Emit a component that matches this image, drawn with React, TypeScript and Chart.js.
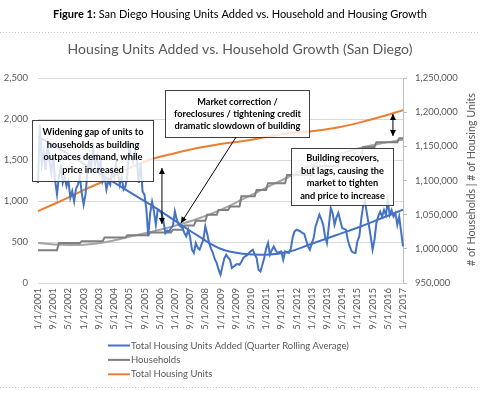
import React, { useEffect, useRef } from 'react';
import { Chart, registerables } from 'chart.js';

Chart.register(...registerables);

// ---------- data ----------
const FIRST_YEAR = 2001;
const MONTHS = 193; // 1/1/2001 .. 1/1/2017
const TICK_EVERY = 8;
const MONTH_LABELS: string[] = Array.from(
  { length: MONTHS },
  (_, i) => `${(i % 12) + 1}/1/${FIRST_YEAR + Math.floor(i / 12)}`
);

// Total Housing Units Added (quarter rolling average), monthly
const UNITS_ADDED: number[] = [
  // 2001
  1220, 1930, 1450, 1600, 1380, 1700, 1500, 1350, 1550, 1250, 1080, 1300,
  // 2002
  1420, 1220, 1300, 1180, 1250, 1040, 1120, 995, 1150, 1200, 1300, 1100,
  // 2003
  955, 1080, 1350, 1500, 1420, 1650, 1450, 1550, 1380, 1500, 1240, 1300,
  // 2004
  1140, 1250, 1200, 1380, 1300, 1450, 1350, 1200, 1300, 1140, 1180, 1300,
  // 2005
  1690, 1550, 1480, 1620, 1500, 1220, 1460, 1117, 1077, 900, 570, 850,
  // 2006
  990, 873, 711, 894, 880, 854, 751, 610, 640, 629, 671, 700,
  // 2007
  873, 772, 711, 690, 671, 610, 568, 650, 560, 406, 366, 488,
  // 2008
  430, 406, 470, 528, 690, 600, 488, 420, 366, 290, 244, 162,
  // 2009
  101, 203, 300, 345, 310, 284, 183, 200, 223, 230, 223, 260,
  // 2010
  305, 325, 340, 366, 390, 406, 350, 305, 162, 141, 220, 305,
  // 2011
  420, 488, 345, 400, 446, 400, 366, 380, 385, 284, 385, 370,
  // 2012
  366, 420, 560, 629, 650, 640, 629, 610, 600, 528, 450, 406,
  // 2013
  480, 549, 690, 760, 833, 780, 711, 568, 488, 700, 915, 850,
  // 2014
  711, 800, 854, 760, 671, 660, 650, 520, 446, 385, 370, 366,
  // 2015
  507, 568, 772, 934, 995, 850, 711, 568, 406, 528, 732, 812,
  // 2016
  870, 810, 890, 830, 1000, 830, 890, 810, 850, 710, 810, 630,
  // 2017
  446,
];

// polynomial trend of units added, read at each January
const UNITS_TREND_JAN: number[] = [
  1784, 1626, 1455, 1284, 1111, 943, 760, 577, 418, 357, 345, 382, 479, 577, 674, 784, 894,
];

// Households: [first month index of level, households]
const HOUSEHOLD_STEPS: [number, number][] = [
  [0, 998000], [11, 1008500], [23, 1011000], [35, 1016500], [47, 1020000],
  [59, 1024000], [71, 1028000], [77, 1034000], [83, 1041000], [89, 1050000],
  [95, 1057000], [101, 1062000], [107, 1077000], [115, 1086000], [121, 1096000],
  [131, 1108000], [145, 1121000], [159, 1135000], [171, 1149000], [178, 1156000],
  [190, 1162000],
];

// households trend, read at each January
const HOUSEHOLD_TREND_JAN: number[] = [
  1008500, 1006000, 1006000, 1010000, 1017800, 1025000, 1033800, 1044000, 1057000,
  1073000, 1089500, 1105500, 1123000, 1136000, 1146500, 1154000, 1159600,
];

// Total housing units, read at each January
const TOTAL_UNITS_JAN: number[] = [
  1055300, 1070000, 1086000, 1100700, 1118000, 1131400, 1140000, 1147500, 1153400,
  1157800, 1163600, 1169500, 1172000, 1176700, 1184000, 1192800, 1203000,
];

const SERIES_NAMES = [
  'Total Housing Units Added (Quarter Rolling Average)',
  'Households',
  'Total Housing Units',
];

// annotations in data units (x: month index, y: left-axis units)
const CALLOUTS = [
  { lines: ['Widening gap of units to', 'households as building', 'outpaces demand, while', 'price increased'], x0: -3.2, x1: 60.5, y0: 1988, y1: 1244 },
  { lines: ['Market correction /', 'foreclosures / tightening credit', 'dramatic slowdown of building'], x0: 66.8, x1: 142.6, y0: 2354, y1: 1780 },
  { lines: ['Building recovers,', 'but lags, causing the', 'market to tighten', 'and price to increase'], x0: 133.1, x1: 186.7, y0: 1646, y1: 951 },
];
const ARROWS = [
  { from: [65.2, 1402], to: [65.2, 720], both: true },
  { from: [104.2, 1780], to: [75.2, 732], both: false },
  { from: [186.7, 2061], to: [186.7, 1793], both: true },
];

// ---------- helpers ----------
const sparseJan = (vals: number[]) => {
  const a: (number | null)[] = new Array(MONTHS).fill(null);
  vals.forEach((v, i) => { a[i * 12] = v; });
  return a;
};
const expandSteps = (steps: [number, number][]) => {
  const a: number[] = [];
  let k = 0;
  for (let m = 0; m < MONTHS; m++) {
    while (k + 1 < steps.length && steps[k + 1][0] <= m) k++;
    a.push(steps[k][1]);
  }
  return a;
};

const FONT = 'Lato, "Open Sans", sans-serif';
const BLUE = '#4472C4';
const ORANGE = '#ED7D31';
const GRAY = '#7F7F7F';
const LIGHT_GRAY = '#A5A5A5';
const TEXT = '#595959';

const fitSize = (ctx: CanvasRenderingContext2D, text: string, weight: string, target: number) => {
  ctx.font = `${weight} 20px ${FONT}`;
  return (20 * target) / ctx.measureText(text).width;
};

const arrowHead = (ctx: CanvasRenderingContext2D, tx: number, ty: number, fx: number, fy: number) => {
  const ang = Math.atan2(ty - fy, tx - fx);
  const len = 6, half = 3;
  ctx.beginPath();
  ctx.moveTo(tx, ty);
  ctx.lineTo(tx - len * Math.cos(ang) + half * Math.sin(ang), ty - len * Math.sin(ang) - half * Math.cos(ang));
  ctx.lineTo(tx - len * Math.cos(ang) - half * Math.sin(ang), ty - len * Math.sin(ang) + half * Math.cos(ang));
  ctx.closePath();
  ctx.fill();
};

const decorPlugin = {
  id: 'decor',
  beforeDraw(chart: any) {
    const ctx = chart.ctx;
    ctx.save();
    ctx.fillStyle = '#FFFFFF';
    ctx.fillRect(0, 0, chart.width, chart.height);
    ctx.restore();
  },
  afterDraw(chart: any) {
    const ctx: CanvasRenderingContext2D = chart.ctx;
    const xs = chart.scales.x;
    const ys = chart.scales.y;
    const W = chart.width;
    ctx.save();

    // header
    const bold = 'Figure 1:';
    const rest = ' San Diego Housing Units Added vs. Household and Housing Growth';
    ctx.font = `bold 20px ${FONT}`;
    const wb = ctx.measureText(bold).width;
    ctx.font = `normal 20px ${FONT}`;
    const wr = ctx.measureText(rest).width;
    const hs = (20 * 374) / (wb + wr);
    const hx = W / 2 - 187;
    ctx.textBaseline = 'middle';
    ctx.textAlign = 'left';
    ctx.fillStyle = '#000000';
    ctx.font = `bold ${hs}px ${FONT}`;
    ctx.fillText(bold, hx, 14);
    ctx.font = `normal ${hs}px ${FONT}`;
    ctx.fillText(rest, hx + (wb * hs) / 20, 14);

    // dotted separators
    ctx.strokeStyle = '#C8C8C8';
    ctx.lineWidth = 1;
    ctx.setLineDash([1, 2]);
    ctx.beginPath();
    ctx.moveTo(0, 32.5); ctx.lineTo(W, 32.5);
    ctx.moveTo(0, 387.5); ctx.lineTo(W, 387.5);
    ctx.stroke();
    ctx.setLineDash([]);

    // chart title
    const title = 'Housing Units Added vs. Household Growth (San Diego)';
    const ts = fitSize(ctx, title, 'normal', 345);
    ctx.font = `normal ${ts}px ${FONT}`;
    ctx.fillStyle = TEXT;
    ctx.textAlign = 'center';
    ctx.fillText(title, 240, 49);

    // right axis title
    const rt = '# of Households | # of Housing Units';
    const rs = fitSize(ctx, rt, 'normal', 173);
    ctx.save();
    ctx.translate(471.5, 179.5);
    ctx.rotate(-Math.PI / 2);
    ctx.font = `normal ${rs}px ${FONT}`;
    ctx.fillStyle = TEXT;
    ctx.textAlign = 'center';
    ctx.fillText(rt, 0, 0);
    ctx.restore();

    // legend
    const ls = fitSize(ctx, SERIES_NAMES[0], 'normal', 218);
    const legendColors = [BLUE, GRAY, ORANGE];
    SERIES_NAMES.forEach((name, i) => {
      const y = 345.5 + i * 14.4;
      ctx.strokeStyle = legendColors[i];
      ctx.lineWidth = 2;
      ctx.beginPath();
      ctx.moveTo(108, y); ctx.lineTo(130, y);
      ctx.stroke();
      ctx.font = `normal ${ls}px ${FONT}`;
      ctx.fillStyle = TEXT;
      ctx.textAlign = 'left';
      ctx.fillText(name, 131, y);
    });

    // callout boxes
    const cs = fitSize(ctx, 'foreclosures / tightening credit', 'bold', 127);
    CALLOUTS.forEach((c) => {
      const x0 = Math.round(xs.getPixelForValue(c.x0)) + 0.5;
      const x1 = Math.round(xs.getPixelForValue(c.x1)) + 0.5;
      const y0 = Math.round(ys.getPixelForValue(c.y0)) + 0.5;
      const y1 = Math.round(ys.getPixelForValue(c.y1)) + 0.5;
      ctx.fillStyle = 'rgba(255,255,255,0.8)';
      ctx.fillRect(x0, y0, x1 - x0, y1 - y0);
      ctx.strokeStyle = '#404040';
      ctx.lineWidth = 1;
      ctx.strokeRect(x0, y0, x1 - x0, y1 - y0);
      ctx.fillStyle = '#000000';
      ctx.font = `bold ${cs}px ${FONT}`;
      ctx.textAlign = 'center';
      const lh = 12.4;
      const cy = (y0 + y1) / 2 - ((c.lines.length - 1) * lh) / 2;
      c.lines.forEach((t, i) => ctx.fillText(t, (x0 + x1) / 2, cy + i * lh));
    });

    // arrows
    ctx.strokeStyle = '#000000';
    ctx.fillStyle = '#000000';
    ctx.lineWidth = 1;
    ARROWS.forEach((a) => {
      const fx = xs.getPixelForValue(a.from[0]);
      const fy = ys.getPixelForValue(a.from[1]);
      const tx = xs.getPixelForValue(a.to[0]);
      const ty = ys.getPixelForValue(a.to[1]);
      ctx.beginPath();
      ctx.moveTo(fx, fy); ctx.lineTo(tx, ty);
      ctx.stroke();
      arrowHead(ctx, tx, ty, fx, fy);
      if (a.both) arrowHead(ctx, fx, fy, tx, ty);
    });

    ctx.restore();
  },
};

export default function App() {
  const ref = useRef<HTMLCanvasElement>(null);

  useEffect(() => {
    document.body.style.margin = '0';
    const canvas = ref.current;
    if (!canvas) return;
    const tickFont = { family: FONT, size: 9.5 };
    const chart = new Chart(canvas, {
      type: 'line',
      data: {
        labels: MONTH_LABELS,
        datasets: [
          { label: SERIES_NAMES[0], data: UNITS_ADDED, borderColor: BLUE, backgroundColor: BLUE, borderWidth: 2, pointRadius: 0, yAxisID: 'y', tension: 0 },
          { label: 'Units added trend', data: sparseJan(UNITS_TREND_JAN), borderColor: BLUE, borderWidth: 2, pointRadius: 0, yAxisID: 'y', spanGaps: true, tension: 0.4 },
          { label: SERIES_NAMES[1], data: expandSteps(HOUSEHOLD_STEPS), borderColor: GRAY, backgroundColor: GRAY, borderWidth: 2, pointRadius: 0, yAxisID: 'y1', tension: 0 },
          { label: 'Households trend', data: sparseJan(HOUSEHOLD_TREND_JAN), borderColor: LIGHT_GRAY, borderWidth: 2, pointRadius: 0, yAxisID: 'y1', spanGaps: true, tension: 0.4 },
          { label: SERIES_NAMES[2], data: sparseJan(TOTAL_UNITS_JAN), borderColor: ORANGE, backgroundColor: ORANGE, borderWidth: 2, pointRadius: 0, yAxisID: 'y1', spanGaps: true, tension: 0.4 },
        ],
      },
      options: {
        responsive: false,
        animation: false,
        events: [],
        layout: { autoPadding: false, padding: { top: 78, bottom: 63, left: 0, right: 0 } },
        plugins: { legend: { display: false }, title: { display: false }, tooltip: { enabled: false } },
        scales: {
          x: {
            type: 'category',
            grid: { display: false, drawTicks: false },
            border: { display: false },
            ticks: {
              autoSkip: false,
              minRotation: 90,
              maxRotation: 90,
              padding: 5,
              color: TEXT,
              font: tickFont,
              callback: (_v: any, i: number) => (i % TICK_EVERY === 0 ? MONTH_LABELS[i] : null),
            },
            afterFit: (s: any) => { s.height = 50; },
          },
          y: {
            position: 'left',
            min: 0,
            max: 2500,
            ticks: { stepSize: 500, padding: 10, color: TEXT, font: tickFont, callback: (v: any) => Number(v).toLocaleString('en-US') },
            grid: { color: '#D9D9D9', drawTicks: false },
            border: { display: false },
            afterFit: (s: any) => { s.width = 38; },
          },
          y1: {
            position: 'right',
            min: 950000,
            max: 1250000,
            ticks: { stepSize: 50000, padding: 8, color: TEXT, font: tickFont, callback: (v: any) => Number(v).toLocaleString('en-US') },
            grid: { drawOnChartArea: false, tickLength: 4, color: '#BFBFBF' },
            border: { display: true, color: '#BFBFBF' },
            afterFit: (s: any) => { s.width = 77; },
          },
        },
      },
      plugins: [decorPlugin],
    } as any);
    return () => chart.destroy();
  }, []);

  return (
    <div style={{ width: 480, height: 396, position: 'relative', background: '#fff' }}>
      <canvas ref={ref} width={480} height={396} style={{ display: 'block' }} />
    </div>
  );
}
